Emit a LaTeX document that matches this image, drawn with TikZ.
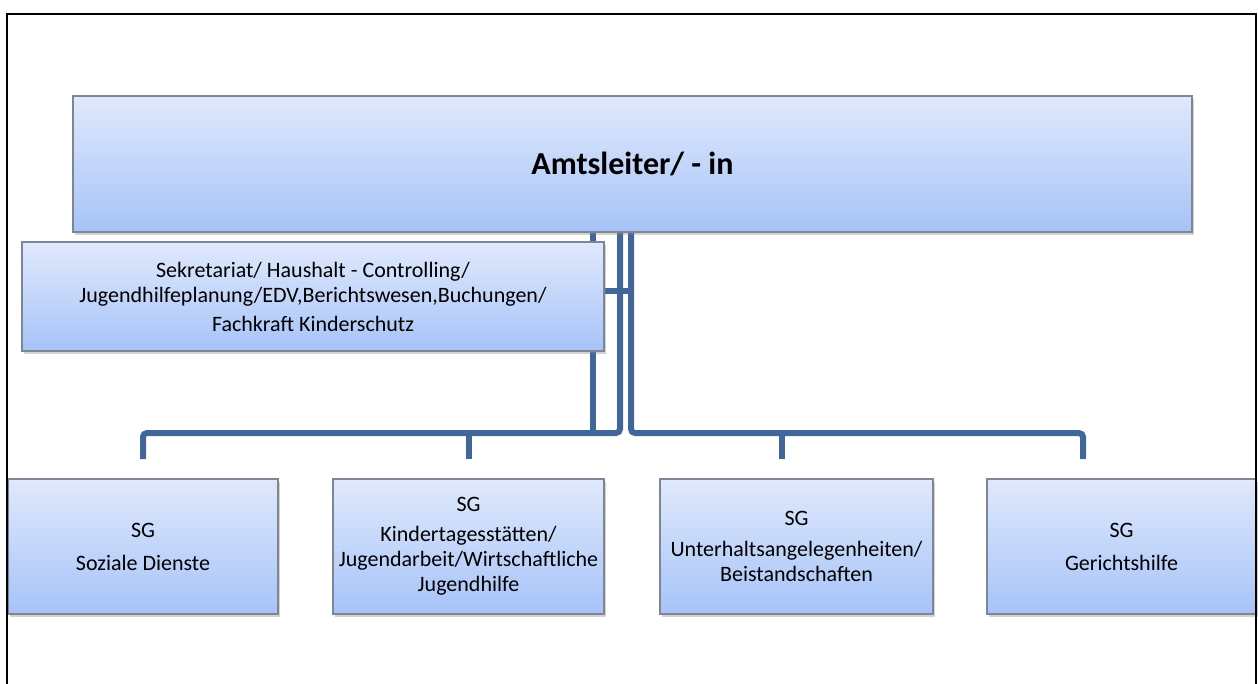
\documentclass[tikz,border=0pt]{standalone}
\usepackage{fontspec}
\setmainfont{Carlito}
\usetikzlibrary{positioning,calc,shadows,backgrounds}
\definecolor{kopf}{HTML}{E0E9FC}
\definecolor{fuss}{HTML}{A6C3F8}
\definecolor{rand}{HTML}{7F8693}
\definecolor{linie}{HTML}{41679A}

\begin{document}
\begin{tikzpicture}[x=0.5pt, y=-0.5pt,
  box/.style={
    draw=rand, line width=0.6pt, top color=kopf, bottom color=fuss,
    align=center, inner sep=0pt, outer sep=0pt,
    font=\fontsize{11}{12.5}\selectfont,
    drop shadow={shadow xshift=1pt, shadow yshift=-1.5pt, opacity=0.35}
  },
  sg/.style={box, minimum height=67.5pt},
  conn/.style={draw=linie, line width=3pt, rounded corners=2pt},
  frame/.style={draw=black, line width=1pt}
]
  \useasboundingbox (0,0) rectangle (1258,684);
  \node[box, minimum width=559.5pt, minimum height=68pt,
        font=\fontsize{16}{19}\selectfont\bfseries] (amt) at (632.5,164) {Amtsleiter/ - in};
  \node[box, minimum width=291pt, minimum height=54.5pt] (sek) at (313,296.5)
    {Sekretariat/ Haushalt - Controlling/\\Jugendhilfeplanung/EDV,Berichtswesen,Buchungen/\\[2pt]Fachkraft Kinderschutz};
  \node[sg, minimum width=135pt] (sd) at (143,546.5) {SG\\[4pt]Soziale Dienste};
  \node[sg, minimum width=135.5pt, right=27.5pt of sd] (kita)
    {SG\\[2.5pt]Kindertagesstätten/\\Jugendarbeit/Wirtschaftliche\\Jugendhilfe};
  \node[sg, minimum width=136.5pt, right=28pt of kita] (uh)
    {SG\\[3pt]Unterhaltsangelegenheiten/\\Beistandschaften};
  \node[sg, minimum width=134.5pt, right=27pt of uh] (gh) {SG\\[4pt]Gerichtshilfe};
  \begin{scope}[on background layer]
    \draw[conn] ($(amt.south)+(-39.5,0)$) -- ++(0,201);
    \draw[conn] ($(amt.south)+(-12.5,0)$) |- ($(sd.north)+(0,-46)$) -- ($(sd.north)+(0,-20)$);
    \draw[conn] ($(kita.north)+(0,-46)$) -- ($(kita.north)+(0,-20)$);
    \draw[conn] ($(amt.south)+(-1.5,0)$) |- ($(gh.north)+(-38.5,-46)$) -- ($(gh.north)+(-38.5,-20)$);
    \draw[conn] ($(uh.north)+(-14.5,-46)$) -- ($(uh.north)+(-14.5,-20)$);
    \draw[conn] ($(sek.east)+(0,-5.5)$) -- ++(27,0);
  \end{scope}
  \draw[frame] (7,684) |- (1256,14) -- (1256,684);
\end{tikzpicture}
\end{document}
